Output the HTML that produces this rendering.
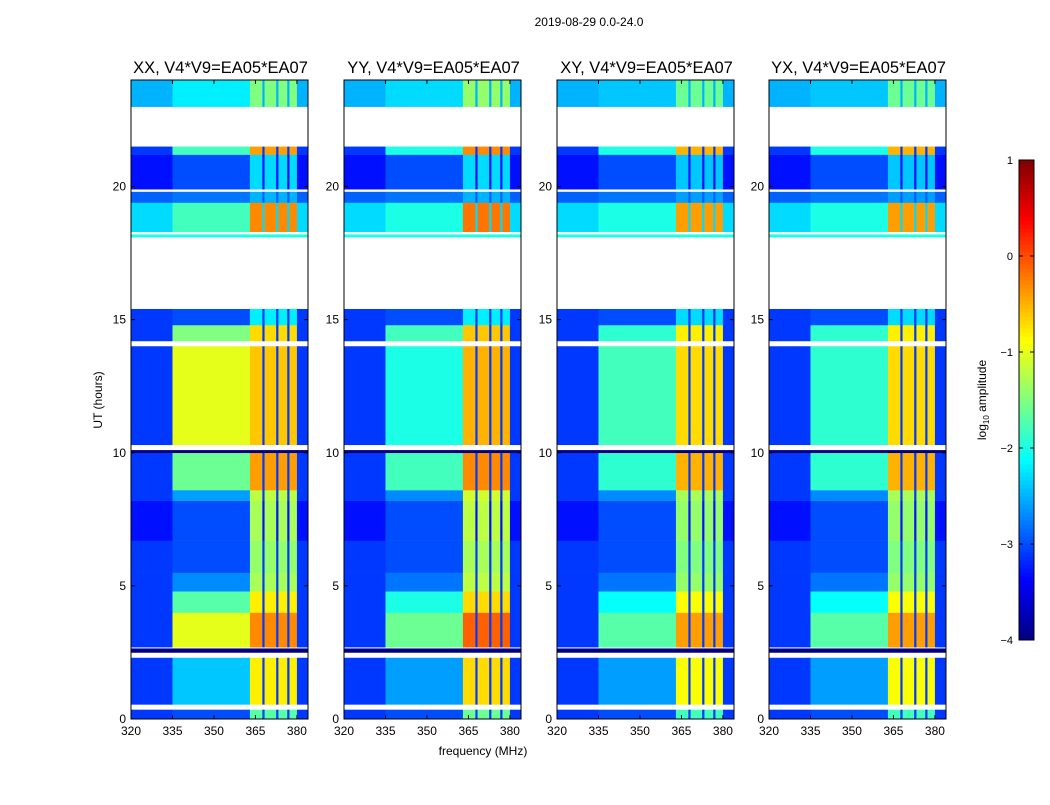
<!DOCTYPE html>
<html><head><meta charset="utf-8">
<style>
body{margin:0;background:#fff;font-family:"Liberation Sans",sans-serif;}
svg text{font-family:"Liberation Sans",sans-serif;}
</style></head>
<body>
<svg id="fig" width="1050" height="800" viewBox="0 0 1050 800" xmlns="http://www.w3.org/2000/svg">
<rect width="1050" height="800" fill="#fff"/>
<text x="589" y="26" font-size="12" text-anchor="middle">2019-08-29 0.0-24.0</text>
<text x="483" y="755" font-size="12" text-anchor="middle">frequency (MHz)</text>
<text transform="translate(102,400) rotate(-90)" font-size="12" text-anchor="middle">UT (hours)</text>
<text transform="translate(986,400) rotate(-90)" font-size="12" text-anchor="middle">log<tspan font-size="8" dy="3">10</tspan><tspan dy="-3"> amplitude</tspan></text>
<g id="panels"></g>
<g id="cbar"></g>
</svg>
<script>
const panelTitles=["XX, V4*V9=EA05*EA07","YY, V4*V9=EA05*EA07","XY, V4*V9=EA05*EA07","YX, V4*V9=EA05*EA07"];
const freqTicks=[320,335,350,365,380];
const timeTicks=[0,5,10,15,20];
const cbarTicks=[1,0,-1,-2,-3,-4];
const segStart=[0,0.55,2.5,2.7,4.0,4.8,5.5,6.7,8.2,8.6,10.0,10.3,14.2,14.8,18.1,18.3,19.4,19.9,21.2,23.0];
const segEnd  =[0.35,2.3,2.65,4.0,4.8,5.5,6.7,8.2,8.6,10.0,10.1,14.0,14.8,15.4,18.2,19.4,19.8,21.2,21.5,24.0];
const lowVals =[-3.1,-3.1,-4.0,-3.1,-3.1,-3.1,-3.1,-3.3,-3.1,-3.1,-4.0,-3.1,-3.1,-3.1,-2.0,-2.3,-2.9,-3.3,-3.1,-2.5];
const midXX   =[-3.0,-2.4,-4.0,-1.0,-1.7,-2.7,-3.0,-3.0,-2.6,-1.6,-4.0,-1.0,-1.5,-3.0,-2.0,-1.8,-2.8,-3.0,-1.8,-2.2];
const midYY   =[-3.0,-2.6,-4.0,-1.6,-2.0,-2.8,-3.0,-3.0,-2.7,-1.8,-4.0,-2.0,-1.8,-3.0,-2.0,-2.0,-2.8,-3.0,-2.0,-2.3];
const midXY   =[-3.0,-2.6,-4.0,-1.7,-2.1,-2.8,-3.0,-3.0,-2.7,-1.9,-4.0,-1.8,-1.9,-3.0,-2.0,-2.0,-2.8,-3.0,-2.0,-2.4];
const midYX   =[-3.0,-2.6,-4.0,-1.7,-2.1,-2.8,-3.0,-3.0,-2.7,-1.9,-4.0,-1.9,-1.9,-3.0,-2.0,-2.0,-2.8,-3.0,-2.0,-2.4];
const hiXX    =[-1.7,-0.8,-4.0,-0.3,-0.8,-1.3,-1.4,-1.3,-1.2,-0.4,-4.0,-0.6,-0.7,-2.2,-2.0,-0.3,-2.5,-2.3,-0.4,-1.5];
const hiYY    =[-1.6,-0.7,-4.0,-0.1,-0.7,-1.2,-1.3,-1.2,-1.1,-0.3,-4.0,-0.5,-0.6,-2.2,-2.0,-0.2,-2.5,-2.3,-0.3,-1.4];
const hiXY    =[-1.8,-0.9,-4.0,-0.4,-0.9,-1.4,-1.5,-1.4,-1.3,-0.5,-4.0,-0.7,-0.8,-2.3,-2.0,-0.4,-2.6,-2.4,-0.5,-1.6];
const hiYX    =[-1.8,-0.9,-4.0,-0.4,-0.9,-1.4,-1.5,-1.4,-1.3,-0.5,-4.0,-0.7,-0.8,-2.3,-2.0,-0.4,-2.6,-2.4,-0.5,-1.6];
const midSeries=[midXX,midYY,midXY,midYX];
const hiSeries=[hiXX,hiYY,hiXY,hiYX];

const NS="http://www.w3.org/2000/svg";
const panelX=[131,344,557,769], PW=177, PT=80, PB=719;
const fMin=320,fMax=384,tMin=0,tMax=24,vMin=-4,vMax=1;
function jet(v){let t=(v-vMin)/(vMax-vMin);t=Math.max(0,Math.min(1,t));
 const c=x=>Math.round(255*Math.max(0,Math.min(1,1.5-Math.abs(4*t-x))));
 return `rgb(${c(3)},${c(2)},${c(1)})`;}
function mk(tag,attrs,parent){const e=document.createElementNS(NS,tag);for(const k in attrs)e.setAttribute(k,attrs[k]);parent.appendChild(e);return e;}
const root=document.getElementById('panels');
const regions=[[320,335,0],[335,363,1],[363,367.5,2],[367.5,368.3,0],[368.3,372.5,2],[372.5,373.3,0],[373.3,376.5,2],[376.5,377.3,0],[377.3,380,2],[380,384,0]];
panelX.forEach((x0,p)=>{
 const xs=f=>x0+(f-fMin)/(fMax-fMin)*PW;
 const ys=t=>PB-(t-tMin)/(tMax-tMin)*(PB-PT);
 const g=mk('g',{},root);
 
 
 for(let i=0;i<segStart.length;i++){
  const vals=[lowVals[i],midSeries[p][i],hiSeries[p][i]];
  regions.forEach(r=>{
   const v=vals[r[2]];
   const rc=mk('rect',{x:xs(r[0]),y:ys(segEnd[i]),width:xs(r[1])-xs(r[0])+0.3,height:ys(segStart[i])-ys(segEnd[i])+0.3,fill:jet(v)},g);
   
   
  });
 }
 const fr=mk('rect',{x:x0,y:PT,width:PW,height:PB-PT,fill:'none',stroke:'#000','stroke-width':1},g);
 
 
 const tt=mk('text',{x:x0+PW/2+1,y:73,'font-size':16.5,'text-anchor':'middle'},g);
 tt.textContent=panelTitles[p];
 
 
 freqTicks.forEach(f=>{
  mk('line',{x1:xs(f),x2:xs(f),y1:PB,y2:PB-4,stroke:'#000'},g);
  mk('line',{x1:xs(f),x2:xs(f),y1:PT,y2:PT+4,stroke:'#000'},g);
  const l=mk('text',{x:xs(f),y:PB+16,'font-size':12,'text-anchor':'middle'},g);
  l.textContent=f;
  
  
 });
 timeTicks.forEach(t=>{
  mk('line',{x1:x0,x2:x0+4,y1:ys(t),y2:ys(t),stroke:'#000'},g);
  mk('line',{x1:x0+PW,x2:x0+PW-4,y1:ys(t),y2:ys(t),stroke:'#000'},g);
  const l=mk('text',{x:x0-5,y:ys(t)+4,'font-size':12,'text-anchor':'end'},g);
  l.textContent=t;
  
  
 });
});
const cb=document.getElementById('cbar');


const CX=1019,CW=15,CT=160,CB=640;
const cy=v=>CB-(v-vMin)/(vMax-vMin)*(CB-CT);
for(let i=0;i<120;i++){const v0=vMin+i*(vMax-vMin)/120,v1=v0+(vMax-vMin)/120;
 mk('rect',{x:CX,y:cy(v1),width:CW,height:cy(v0)-cy(v1)+0.5,fill:jet((v0+v1)/2)},cb);}
mk('rect',{x:CX,y:CT,width:CW,height:CB-CT,fill:'none',stroke:'#000'},cb);
cbarTicks.forEach(v=>{
 mk('line',{x1:CX,x2:CX+4,y1:cy(v),y2:cy(v),stroke:'#000'},cb);
 mk('line',{x1:CX+CW,x2:CX+CW-4,y1:cy(v),y2:cy(v),stroke:'#000'},cb);
 const l=mk('text',{x:1013,y:cy(v)+4,'font-size':11,'text-anchor':'end'},cb);
 l.textContent=v<0?'\u2212'+(-v):String(v);
 
 
});
</script>
</body></html>
